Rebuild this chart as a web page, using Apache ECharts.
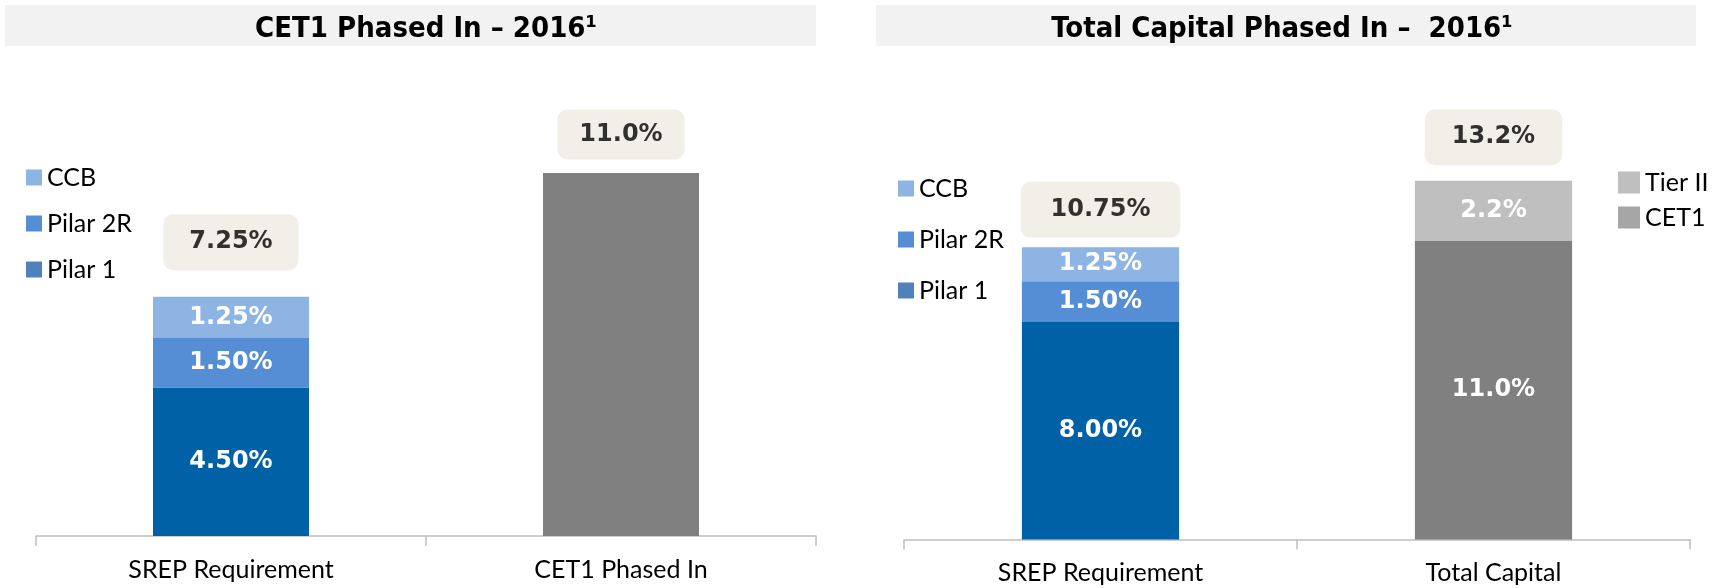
<!DOCTYPE html>
<html lang="en">
<head>
    <meta charset="UTF-8">
    <title>CET1 / Total Capital Phased In 2016</title>
    <style>
        html, body { margin: 0; padding: 0; background: #fff; }
        #chart { width: 1723px; height: 588px; }
    </style>
    <script src="https://cdn.jsdelivr.net/npm/echarts@6/dist/echarts.min.js"></script>
</head>
<body>
    <div id="chart"></div>
    <script>
        // left chart data
        var categoriesA = ['SREP Requirement', 'CET1 Phased In'];
        var pilar1A = [4.50, '-'];
        var pilar2rA = [1.50, '-'];
        var ccbA = [1.25, '-'];
        var cet1A = ['-', 11.0];
        var totalsA = [7.25, 11.0];

        // right chart data
        var categoriesB = ['SREP Requirement', 'Total Capital'];
        var pilar1B = [8.00, '-'];
        var pilar2rB = [1.50, '-'];
        var ccbB = [1.25, '-'];
        var cet1B = ['-', 11.0];
        var tier2B = ['-', 2.2];
        var totalsB = [10.75, 13.2];

        var totalDecimals = [2, 1];

        var boldFont = 'DejaVu Sans';
        var textFont = 'Lato';

        function pct(d) {
            return function (p) { return Number(p.value).toFixed(d) + '%'; };
        }

        function segLabel(d) {
            return {
                show: true,
                position: 'inside',
                color: '#fff',
                fontFamily: boldFont,
                fontWeight: 'bold',
                fontSize: 24,
                formatter: pct(d)
            };
        }

        function stackBar(name, data, color, axis, d, showLabel) {
            return {
                name: name,
                type: 'bar',
                stack: 'total' + axis,
                xAxisIndex: axis,
                yAxisIndex: axis,
                barWidth: '40%',
                data: data,
                itemStyle: { color: color },
                label: showLabel ? segLabel(d) : { show: false },
                emphasis: { disabled: true }
            };
        }

        // boxed total above each bar
        function totalSeries(data, axis, gaps, pads) {
            return {
                type: 'scatter',
                xAxisIndex: axis,
                yAxisIndex: axis,
                symbolSize: 1,
                itemStyle: { color: 'rgba(0,0,0,0)' },
                z: 5,
                data: data.map(function (v, i) {
                    return {
                        value: v,
                        label: {
                            distance: gaps[i],
                            padding: pads[i],
                            formatter: Number(v).toFixed(totalDecimals[i]) + '%'
                        }
                    };
                }),
                label: {
                    show: true,
                    position: 'top',
                    color: '#000',
                    fontFamily: boldFont,
                    fontWeight: 'bold',
                    fontSize: 24,
                    backgroundColor: '#EDEBE1',
                    borderRadius: 10
                }
            };
        }

        function legendCfg(left, top, gap, size, items) {
            return {
                orient: 'vertical',
                left: left,
                top: top,
                itemGap: gap,
                itemWidth: size,
                itemHeight: size,
                icon: 'rect',
                selectedMode: false,
                textStyle: { fontFamily: textFont, fontSize: 25, color: '#000', lineHeight: 24 },
                data: items.map(function (it) {
                    return { name: it[0], itemStyle: { color: it[1] } };
                })
            };
        }

        function catAxis(cats, idx) {
            return {
                type: 'category',
                gridIndex: idx,
                data: cats,
                axisLine: { lineStyle: { color: '#BFBFBF', width: 1.5 } },
                axisTick: { show: true, length: 10, lineStyle: { color: '#BFBFBF', width: 1.5 } },
                axisLabel: { fontFamily: textFont, fontSize: 25, color: '#000', margin: 21 }
            };
        }

        var titleStyle = { fontFamily: 'DejaVu Sans Condensed', fontWeight: 'bold', fontSize: 29, color: '#000' };

        var option = {
            animation: false,
            graphic: [
                { type: 'rect', shape: { x: 5, y: 5, width: 811, height: 41 }, style: { fill: '#F2F2F2' } },
                { type: 'rect', shape: { x: 876, y: 5, width: 820, height: 41 }, style: { fill: '#F2F2F2' } }
            ],
            title: [
                { text: 'CET1 Phased In \u2013 2016\u00B9', left: 421, top: 10, textAlign: 'center', textStyle: titleStyle },
                { text: 'Total Capital Phased In \u2013  2016\u00B9', left: 1277, top: 10, textAlign: 'center', textStyle: titleStyle }
            ],
            legend: [
                legendCfg(21, 160, 21, 16, [['CCB', '#8EB4E3'], ['Pilar 2R', '#558ED5'], ['Pilar 1', '#4F81BD']]),
                legendCfg(893, 171, 26, 16, [['CCB', '#8EB4E3'], ['Pilar 2R', '#558ED5'], ['Pilar 1', '#4F81BD']]),
                legendCfg(1613, 165, 10, 22, [['Tier II', '#BFBFBF'], ['CET1', '#A6A6A6']])
            ],
            grid: [
                { left: 36, width: 780, top: 74, bottom: 52 },
                { left: 904, width: 786, top: 104.5, bottom: 48.5 }
            ],
            xAxis: [catAxis(categoriesA, 0), catAxis(categoriesB, 1)],
            yAxis: [
                { type: 'value', gridIndex: 0, min: 0, max: 14, show: false },
                { type: 'value', gridIndex: 1, min: 0, max: 16, show: false }
            ],
            series: [
                stackBar('Pilar 1', pilar1A, '#0061A7', 0, 2, true),
                stackBar('Pilar 2R', pilar2rA, '#558ED5', 0, 2, true),
                stackBar('CCB', ccbA, '#8EB4E3', 0, 2, true),
                stackBar('CET1', cet1A, '#808080', 0, 1, false),
                totalSeries(totalsA, 0, [26, 13], [[16, 26], [13, 22]]),

                stackBar('Pilar 1', pilar1B, '#0061A7', 1, 2, true),
                stackBar('Pilar 2R', pilar2rB, '#558ED5', 1, 2, true),
                stackBar('CCB', ccbB, '#8EB4E3', 1, 2, true),
                stackBar('CET1', cet1B, '#808080', 1, 1, true),
                stackBar('Tier II', tier2B, '#BFBFBF', 1, 1, true),
                totalSeries(totalsB, 1, [9, 15], [[16, 30], [16, 27]])
            ]
        };

        var chart = echarts.init(document.getElementById('chart'));
        chart.setOption(option);
    </script>
</body>
</html>
